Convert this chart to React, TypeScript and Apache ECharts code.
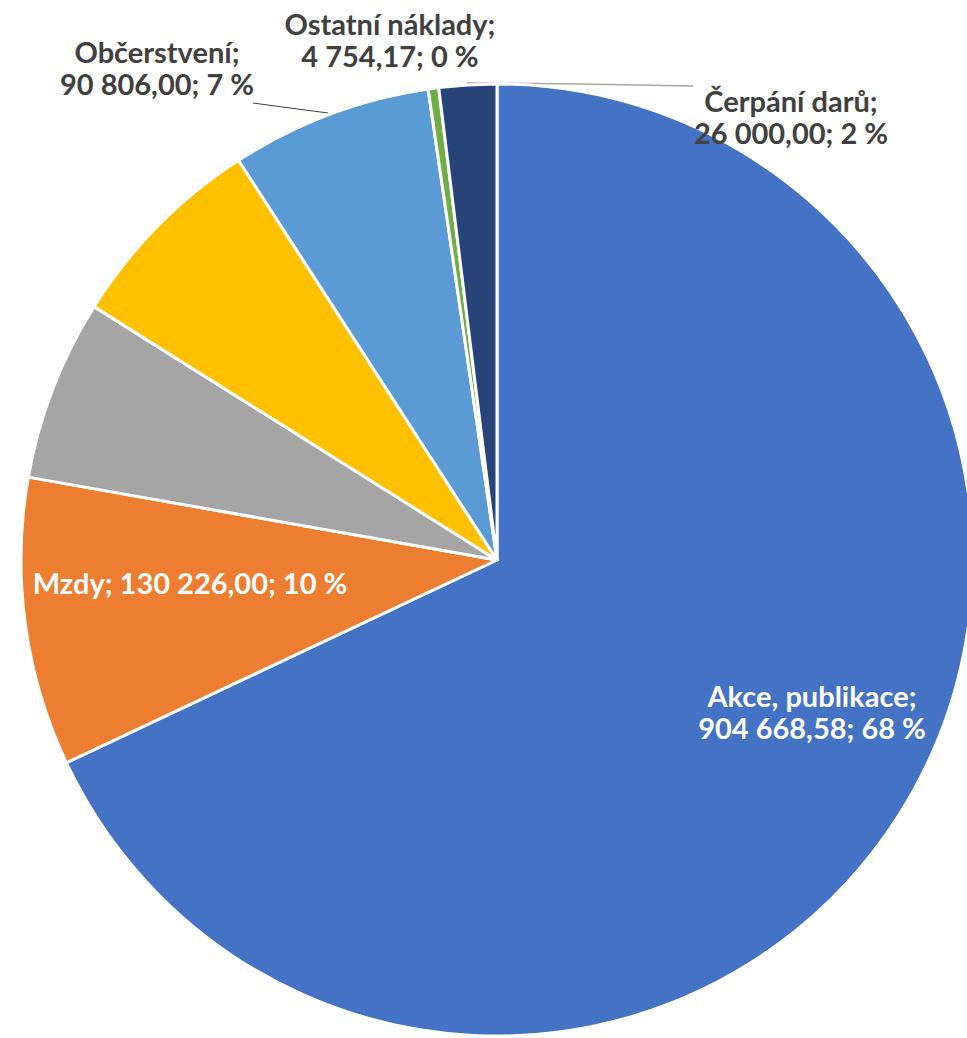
import React, { useEffect, useRef } from "react";
import * as echarts from "echarts";

const categories = [
  "Akce, publikace",
  "Mzdy",
  "Materiál",
  "Služby",
  "Občerstvení",
  "Ostatní náklady",
  "Čerpání darů",
];
const values = [904668.58, 130226.0, 81800.0, 92200.0, 90806.0, 4754.17, 26000.0];
const colors = ["#4472C4", "#ED7D31", "#A5A5A5", "#FFC000", "#5B9BD5", "#70AD47", "#264478"];
const showLabel = [true, true, false, false, true, true, true];

const fmt = (v: number) => {
  const [i, d] = v.toFixed(2).split(".");
  return i.replace(/\B(?=(\d{3})+(?!\d))/g, " ") + "," + d;
};

export default function App() {
  const ref = useRef<HTMLDivElement>(null);
  useEffect(() => {
    document.body.style.margin = "0";
    const chart = echarts.init(ref.current!, null, { renderer: "svg" });
    const total = values.reduce((a, b) => a + b, 0);
    const layouts: any[] = [
      { x: 812, y: 711, align: "center", verticalAlign: "middle" },
      { x: 190, y: 582, align: "center", verticalAlign: "middle" },
      {},
      {},
      {
        x: 157, y: 67, align: "center", verticalAlign: "middle",
        labelLinePoints: [[253, 103], [290, 108], [328, 113]],
      },
      { x: 390, y: 39, align: "center", verticalAlign: "middle" },
      {
        x: 791, y: 116, align: "center", verticalAlign: "middle",
        labelLinePoints: [[467, 83], [580, 84], [693, 86]],
      },
    ];
    const data = categories.map((name, i) => {
      const inside = i === 0 || i === 1;
      const pct = Math.round((values[i] / total) * 100);
      const text = i === 1
        ? `${name}; ${fmt(values[i])}; ${pct} %`
        : `${name};\n${fmt(values[i])}; ${pct} %`;
      return {
        name,
        value: values[i],
        itemStyle: { color: colors[i] },
        label: {
          show: showLabel[i],
          formatter: text,
          color: inside ? "#FFFFFF" : "#404040",
        },
        labelLine: {
          show: i === 4 || i === 6,
          lineStyle: {
            color: i === 6 ? "#A6A6A6" : "#404040",
            width: i === 6 ? 1.5 : 1,
          },
        },
      };
    });
    chart.setOption({
      animation: false,
      backgroundColor: "#FFFFFF",
      series: [
        {
          type: "pie",
          center: [497, 560],
          radius: [0, 476],
          startAngle: 90,
          clockwise: true,
          avoidLabelOverlap: false,
          itemStyle: { borderColor: "#FFFFFF", borderWidth: 3 },
          label: {
            position: "outside",
            fontFamily: "Lato",
            fontWeight: "bold",
            fontSize: 29,
            lineHeight: 32,
            align: "center",
          },
          labelLayout: (p: any) => layouts[p.dataIndex],
          data,
        },
      ],
    });
    return () => chart.dispose();
  }, []);
  return <div ref={ref} style={{ width: 967, height: 1038 }} />;
}
